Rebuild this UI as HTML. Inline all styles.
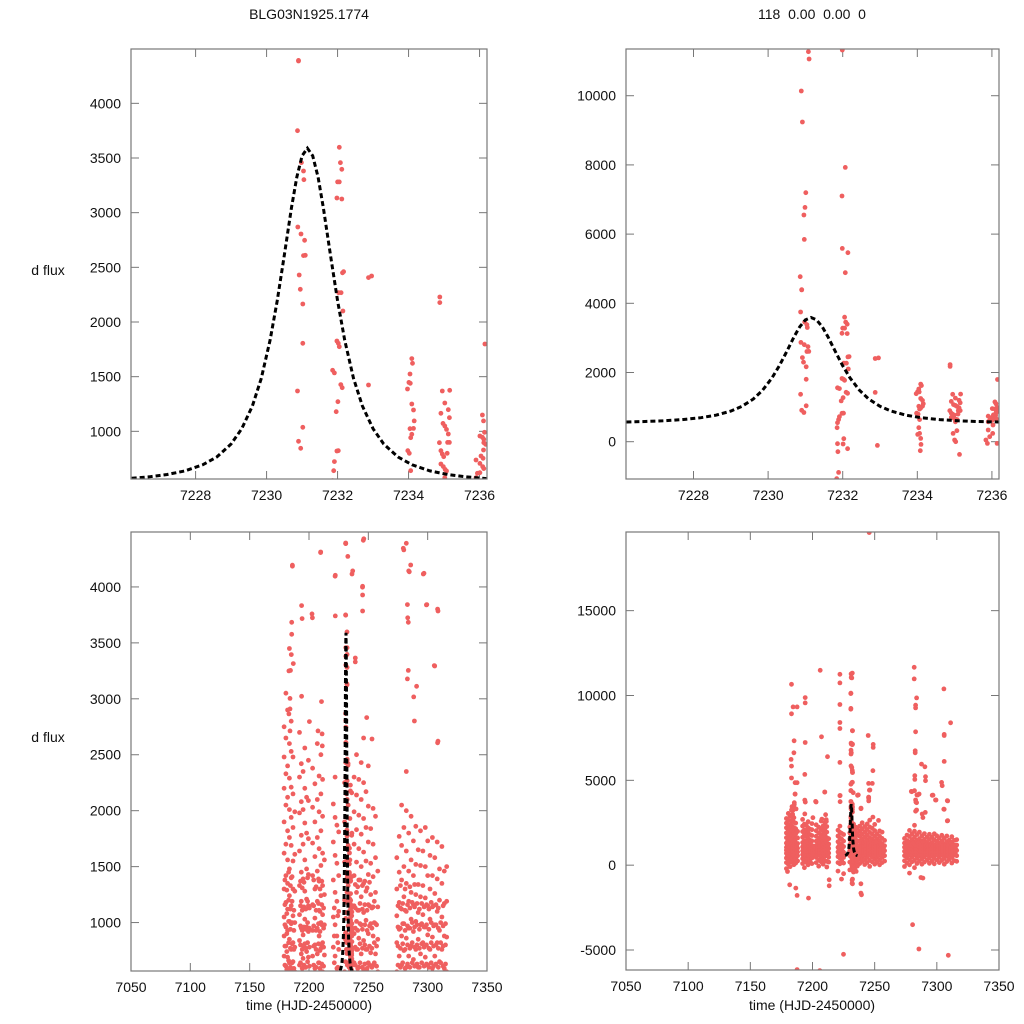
<!DOCTYPE html>
<html><head><meta charset="utf-8">
<style>
html,body{margin:0;padding:0;background:#fff;overflow:hidden;width:1024px;height:1024px;}
svg{display:block;font-family:"Liberation Sans",Arial,sans-serif;}
</style></head>
<body>
<svg id="fig" width="1024" height="1024" viewBox="0 0 1024 1024">
<text x="309" y="19" font-size="14" text-anchor="middle" fill="#111">BLG03N1925.1774</text>
<text x="812" y="19" font-size="14" text-anchor="middle" fill="#111" xml:space="preserve">118  0.00  0.00  0</text>
<text x="48" y="275" font-size="14" text-anchor="middle" fill="#111">d flux</text>
<text x="48" y="742" font-size="14" text-anchor="middle" fill="#111">d flux</text>
<text x="309" y="1010" font-size="14" text-anchor="middle" fill="#111">time (HJD-2450000)</text>
<text x="812" y="1010" font-size="14" text-anchor="middle" fill="#111">time (HJD-2450000)</text>
</svg>
<script>
// Model curve (sampled)
const modelT=[7226.2,7226.7,7227.2,7227.7,7228.2,7228.6,7229.0,7229.3,7229.6,7229.85,7230.1,7230.3,7230.5,7230.7,7230.85,7231.0,7231.15,7231.3,7231.45,7231.6,7231.8,7232.0,7232.2,7232.45,7232.7,7233.0,7233.3,7233.7,7234.1,7234.6,7235.1,7235.6,7236.2];
const modelV=[570,584,605,638,694,766,884,1023,1232,1485,1834,2193,2610,3042,3324,3520,3590,3520,3324,3042,2610,2193,1834,1485,1232,1023,884,766,694,638,605,584,568];
// Zoomed-window data
const zoomT=[7230.90,7230.87,7230.98,7231.04,7231.05,7230.88,7230.97,7231.07,7231.04,7231.09,7230.92,7230.95,7231.02,7231.02,7230.87,7231.02,7230.90,7230.96,
7232.05,7232.08,7232.12,7232.00,7232.05,7231.98,7232.12,7232.14,7232.17,7232.03,7232.10,7232.15,7231.98,7232.02,7232.05,7231.86,7231.91,7232.09,7232.13,7232.01,7231.96,7231.98,7232.02,7231.91,7231.89,
7232.87,7232.96,7232.87,
7234.09,7234.11,7234.04,7234.01,7234.05,7233.97,7234.09,7234.14,7234.16,7234.04,7234.14,7234.09,7234.06,7233.98,7234.02,7234.06,
7234.88,7234.88,7234.95,7235.16,7235.02,7234.91,7235.12,7235.15,7234.97,7235.02,7235.07,7235.12,7234.87,7235.10,7235.15,7234.91,7234.95,7234.99,7235.09,7234.91,7234.98,7235.03,7235.07,7235.02,
7236.15,7236.08,7236.11,7236.14,7236.01,7236.08,7236.12,7236.17,7236.12,7236.11,7236.10,7235.90,7236.04,7236.01,7236.09,7236.12,7235.94,7236.01,7235.90,
7231.08,7231.10,7230.89,7230.92,7231.01,7230.99,7230.96,7230.97,7230.86,7230.90,7231.99,7232.07,7231.98,7231.99,7232.14,7232.07,
7231.85,7231.86,7232.03,7232.01,7231.86,7231.87,7232.13,7231.89,7231.84,7232.93,
7234.06,7234.09,7234.01,7234.10,7234.08,7234.04,7235.00,7235.03,7235.13,7234.96,7235.06,7235.88,7235.84,7235.94,7236.02,7236.14,7235.90,7236.03];
const zoomV=[4387,3750,3458,3381,3302,2869,2805,2747,2607,2610,2430,2299,2165,1805,1369,1037,909,845,
3598,3457,3397,3281,3281,3134,3125,2450,2460,2268,2268,2101,1826,1805,1774,1558,1534,1427,1399,1271,1180,820,823,723,640,
2406,2421,1424,
1665,1622,1524,1448,1439,1387,1250,1195,1095,1024,1027,973,942,823,799,640,
2229,2177,1369,1375,1259,1165,1198,1125,1073,1049,1018,976,896,899,899,823,793,768,799,701,677,652,637,576,
1799,1149,1095,991,957,945,927,881,896,829,753,738,774,707,677,659,616,622,576,
11272,11060,10135,9239,7197,6773,6551,5848,4769,4393,11320,7929,7100,5588,5462,4884,
405,549,87,-67,-58,-289,-202,-886,-1069,-106,
241,96,212,-77,-260,405,48,0,-366,241,318,-48,48,144,241,-48,337,482];
// Full-season data: outliers
const outT=[7183.1,7183.1,7184.4,7187.6,7185.2,7185.0,7182.8,7183.1,7183.1,7186.0,7187.6,7186.0,7184.4,7194.1,7194.1,7194.1,7193.8,7206.2,7207.2,7212.1,7209.9,7202.9,
7222.0,7222.0,7222.0,7222.0,7222.0,7222.0,7222.0,7231.6,7231.6,7230.8,7230.8,7232.2,7231.2,7232.2,7231.2,7231.6,7232.2,7231.6,7232.7,7236.2,
7244.8,7248.8,7248.8,7248.6,7245.1,7248.1,7245.1,7246.2,7245.6,
7281.8,7281.8,7283.7,7282.9,7282.9,7282.9,7282.6,7282.6,7287.7,7290.4,7290.9,7290.9,7282.3,7282.3,7284.5,7282.0,7283.2,7283.7,7279.9,
7305.7,7311.1,7305.9,7305.9,7305.9,7303.8,7304.3,7296.3,7299.3,7308.4,7305.9,7308.4,
7179.9,7181.7,7186.6,7187.6,7187.6,7196.8,7205.9,7213.4,7213.4,7223.3,7224.9,7232.2,7232.2,7238.9,7238.9,7239.4,7280.5,7285.6,7309.2,7287.2,7288.8,7278.0,
7230.9,7245.8,7209.8,7186.0,7222.2,7236.8,7279.5,7285.7,7284.0,7296.9,7245.2,7245.2,7245.2,7193.8,7194.2,7202.5,7222.2,7230.9,7185.4,7185.4,7185.1,7186.8,7183.1,7239.0,7239.0,7282.9,7283.7,7298.9,7308.7,7305.6,7282.9,7290.7,7288.2,7184.0,7193.8,7210.5,7184.0,7183.1,7200.3,7248.6,7288.8,7308.7,7253.1,7184.0,7207.6,7211.0,7211.2];
const outV=[10662,8918,9330,9330,7330,6625,6233,5840,5135,4860,4860,4194,3254,9878,9565,7232,5350,11486,7566,6390,4312,3724,
11250,10740,9467,8408,8055,6056,4096,11290,11035,10114,9192,7918,7135,7135,6625,5762,5468,4860,4273,4116,
7644,7115,6938,5566,4820,4820,3998,4430,19600,
11662,10976,9859,9427,9271,7860,6742,6625,5958,5800,5213,4978,5272,5057,4135,4390,3724,3254,4331,
10388,8388,7705,7644,6115,4880,4684,4116,3842,3802,3293,2607,
-372,-1156,-1352,-1784,-6154,-1940,-6213,-862,-1215,-823,-5253,-823,-1098,-1098,-1646,-1744,-3508,-4939,-5312,-725,-764,-470,
4387,4417,4307,4185,4104,4143,4345,4196,4143,4122,4006,3928,3785,3833,3717,3759,3741,3747,3684,3577,3395,3315,3249,3365,3330,3842,3684,3839,3785,3297,3178,3112,3017,3004,3022,2975,2910,2865,2796,2832,2802,2621,2641,2713,2713,2686,2579];
// Full-season data: dense columns
const colTimes=[7179,7180.5,7182,7183.5,7185,7186.5,7188,7192,7193.5,7195,7196.5,7198,7199.5,7203,7205,7207,7208.5,7210,7211.5,7213,7220.5,7222,7223.5,7225,7230,7231.5,7233,7234.5,7236,7238,7240,7242,7244,7246,7248,7250,7252,7254,7256,7258,7274,7276,7278,7280,7282,7284,7286,7288,7290,7292,7294,7296,7298,7300,7302,7304,7306,7308,7310,7312,7314,7316];
const colValues=[
[-200,150,420,700,880,1050,1300,1620,1900,2200,2480,2750],
[60,330,610,790,960,1180,1420,1700,2050,2330,2650,3050],
[-90,250,520,690,930,1120,1350,1560,1820,2120,2400,2900],
[180,450,640,850,1010,1240,1480,1760,2010,2290,2600,3450],
[30,300,580,760,990,1150,1400,1690,1940,2210,2530,2800],
[120,400,650,820,1060,1300,1550,1850,2150,2480],
[250,560,780,1000,1280,1610,1990],
[100,380,620,840,1070,1330,1640,1980,2300,2700],
[-150,240,540,720,950,1190,1450,1780,2080,2420],
[170,470,680,890,1120,1390,1700,2010,2350],
[20,330,600,810,1030,1280,1560,1890,2200,2560],
[210,500,740,960,1210,1480,1800,2120],
[90,420,690,920,1150,1430,1750,2090,2450],
[150,450,700,930,1160,1420,1710,2030,2380],
[-60,300,590,800,1040,1300,1590,1900,2240],
[200,480,720,950,1190,1460,1760,2100,2600],
[60,360,640,880,1110,1370,1660,1990,2310],
[260,530,770,1000,1240,1510,1820,2150,2500],
[-110,220,560,820,1070,1330,1620,1950,2280],
[180,470,710,980,1250,1560],
[-350,150,500,780,1050,1380,1720,2060],
[80,420,700,980,1270,1600,1940,2300],
[250,590,880,1190,1530,1870],
[-500,120,460,760,1100,1420,1810],
[-280,180,560,860,1200,1540,1900,2250],
[40,420,760,1090,1450,1800,2150],
[-400,280,640,970,1330,1690,2050],
[150,520,860,1210,1560,1930],
[-20,380,720,1060,1410,1780,2160],
[90,380,640,900,1150,1420,1700,1990,2300],
[230,500,760,1010,1270,1540,1830,2140,2500],
[40,330,600,860,1110,1380,1660,1960,2280],
[160,450,720,980,1230,1500,1790,2100,2430],
[-70,280,580,840,1090,1350,1630,1930,2250,2650],
[200,490,760,1020,1280,1550,1850,2170],
[60,350,640,900,1160,1430,1720,2040,2400],
[180,470,730,990,1250,1530,1840],
[20,330,620,880,1140,1410,1700,2020],
[150,450,720,990,1270,1580,1950],
[240,560,850,1140,1460],
[-80,260,560,820,1060,1300,1580],
[120,430,700,940,1180,1450,1770],
[20,330,620,880,1120,1380,1690,2050],
[200,490,750,990,1230,1500,1850],
[-150,280,600,860,1100,1350,1640,2000,2350],
[100,420,700,950,1190,1460,1800],
[240,540,790,1030,1270,1560,1950],
[60,380,670,920,1160,1420,1730],
[180,490,760,1010,1250,1520,1860],
[300,600,850,1090,1340,1650],
[110,430,720,980,1230,1510,1820],
[240,550,820,1070,1330,1640],
[80,400,690,960,1220,1500,1850],
[310,620,890,1150,1420,1730],
[150,470,760,1030,1300,1600],
[280,590,870,1140,1420,1760],
[60,400,700,980,1260,1580],
[210,530,820,1100,1390,1720],
[340,650,930,1200,1480],
[130,460,760,1050,1350,1680],
[270,590,880,1170,1460],
[230,560,870,1190,1500]];
// Full-season data: additional low-flux columns
const colTimes2=[7179.7,7181.3,7182.8,7184.3,7185.8,7187.3,7192.8,7194.3,7195.8,7197.3,7198.8,7200.3,7204,7206,7208,7209.3,7210.8,7212.3,7221.3,7224.3,7230.8,7232.3,7233.8,7235.3,7239,7241,7243,7245,7247,7249,7251,7253,7255,7257,7275,7277,7279,7281,7283,7285,7287,7289,7291,7293,7295,7297,7299,7301,7303,7305,7307,7309,7311,7313,7315];
const colValues2=[
[620,790,980,1160,1380],[580,740,900,1080,1290],[660,820,1010,1200,1450],[600,770,940,1120,1330],[640,810,1000,1190,1410],[590,760,930,1110],
[640,800,970,1150,1370],[590,760,930,1110,1310],[620,790,960,1140,1360],[600,770,940,1120],[650,820,1000,1190,1400],[610,780,950,1130],
[620,790,970,1150,1380],[600,760,930,1110,1320],[640,810,990,1170,1390],[590,750,920,1100,1300],[630,800,980,1160,1370],[610,780,950,1130],
[640,880,1130],[600,820,1060],[650,900],[620,870],[600,840,1100],[640,900],
[620,780,950,1130,1340],[590,760,930,1110,1320],[640,810,990,1170,1380],[600,770,940,1120,1330],[630,800,980,1160,1370],[590,760,930,1110,1310],[620,790,970,1150,1360],[600,770,950,1130],[640,820,1000,1190],[610,790,980],
[620,790,960,1150],[600,770,950,1130,1330],[640,810,990,1170],[590,760,930,1110,1300],[630,800,970,1160],[600,770,950,1130,1320],[640,820,1000,1180],[610,780,960,1140,1340],[630,800,980,1170],[600,770,940,1120],[640,810,990,1170],[610,780,960,1140],[630,800,980,1160],[600,770,940,1120],[640,820,1000,1180],[610,790,970,1150],[630,800,980,1160],[600,770,950,1130],[640,820,1000],[610,790,970,1150],[630,800,990]];
// Tick labels
const ticksZoomX=[7228,7230,7232,7234,7236];
const ticksTLY=[1000,1500,2000,2500,3000,3500,4000];
const ticksTRY=[0,2000,4000,6000,8000,10000];
const ticksFullX=[7050,7100,7150,7200,7250,7300,7350];
const ticksBLY=[1000,1500,2000,2500,3000,3500,4000];
const ticksBRY=[-5000,0,5000,10000,15000];

const NS='http://www.w3.org/2000/svg';
const svg=document.getElementById('fig');
function mk(tag,attrs,parent){const e=document.createElementNS(NS,tag);for(const k in attrs)e.setAttribute(k,attrs[k]);(parent||svg).appendChild(e);return e;}

const panels=[
 {id:'top-left',x0:131,x1:487,y0:49,y1:479,tmin:7226.18,tmax:7236.21,vmin:564,vmax:4497,xt:ticksZoomX,yt:ticksTLY,full:false},
 {id:'top-right',x0:626,x1:999,y0:49,y1:479,tmin:7226.19,tmax:7236.19,vmin:-1078,vmax:11350,xt:ticksZoomX,yt:ticksTRY,full:false},
 {id:'bottom-left',x0:131,x1:487,y0:532,y1:971,tmin:7050,tmax:7350,vmin:567,vmax:4491,xt:ticksFullX,yt:ticksBLY,full:true},
 {id:'bottom-right',x0:626,x1:999,y0:532,y1:970,tmin:7050,tmax:7350,vmin:-6178,vmax:19635,xt:ticksFullX,yt:ticksBRY,full:true}
];

panels.forEach((p,pi)=>{
 const sx=t=>p.x0+(t-p.tmin)/(p.tmax-p.tmin)*(p.x1-p.x0);
 const sy=v=>p.y1-(v-p.vmin)/(p.vmax-p.vmin)*(p.y1-p.y0);
 const g=mk('g',{});
 
 
 const cp=mk('clipPath',{id:'clip'+pi},g);
 mk('rect',{x:p.x0,y:p.y0,width:p.x1-p.x0,height:p.y1-p.y0},cp);
 p.xt.forEach(t=>{
  const x=sx(t);
  const l1=mk('line',{x1:x,x2:x,y1:p.y1,y2:p.y1-8,stroke:'#777','stroke-width':1},g);
  
  
  mk('line',{x1:x,x2:x,y1:p.y0,y2:p.y0+8,stroke:'#777','stroke-width':1},g);
  const tx=mk('text',{x:x,y:p.y1+21,'font-size':14,'text-anchor':'middle',fill:'#111'},g);
  tx.textContent=t;
  
  
 });
 p.yt.forEach(v=>{
  const y=sy(v);
  const l1=mk('line',{x1:p.x0,x2:p.x0+8,y1:y,y2:y,stroke:'#777','stroke-width':1},g);
  
  
  mk('line',{x1:p.x1,x2:p.x1-8,y1:y,y2:y,stroke:'#777','stroke-width':1},g);
  const tx=mk('text',{x:p.x0-10,y:y+5,'font-size':14,'text-anchor':'end',fill:'#111'},g);
  tx.textContent=v;
  
  
 });
 const pts=mk('g',{'clip-path':'url(#clip'+pi+')',fill:'#ef5f5f'},g);
 
 
 function dot(t,v){
  const c=mk('circle',{cx:sx(t).toFixed(1),cy:sy(v).toFixed(1),r:2.4},pts);
  
  
 }
 if(p.full){
  colTimes.forEach((t,i)=>colValues[i].forEach(v=>dot(t,v)));
  colTimes2.forEach((t,i)=>colValues2[i].forEach(v=>dot(t,v)));
  outT.forEach((t,i)=>dot(t,outV[i]));
 }
 zoomT.forEach((t,i)=>dot(t,zoomV[i]));
 const d=modelT.map((t,i)=>(i?'L':'M')+sx(t).toFixed(1)+','+sy(modelV[i]).toFixed(1)).join(' ');
 const path=mk('path',{d:d,fill:'none',stroke:'#000','stroke-width':3,'stroke-dasharray':'5,3','clip-path':'url(#clip'+pi+')'},g);
 
 
 const fr=mk('rect',{x:p.x0,y:p.y0,width:p.x1-p.x0,height:p.y1-p.y0,fill:'none',stroke:'#777','stroke-width':1.2},g);
 
 
});
</script>
</body></html>
